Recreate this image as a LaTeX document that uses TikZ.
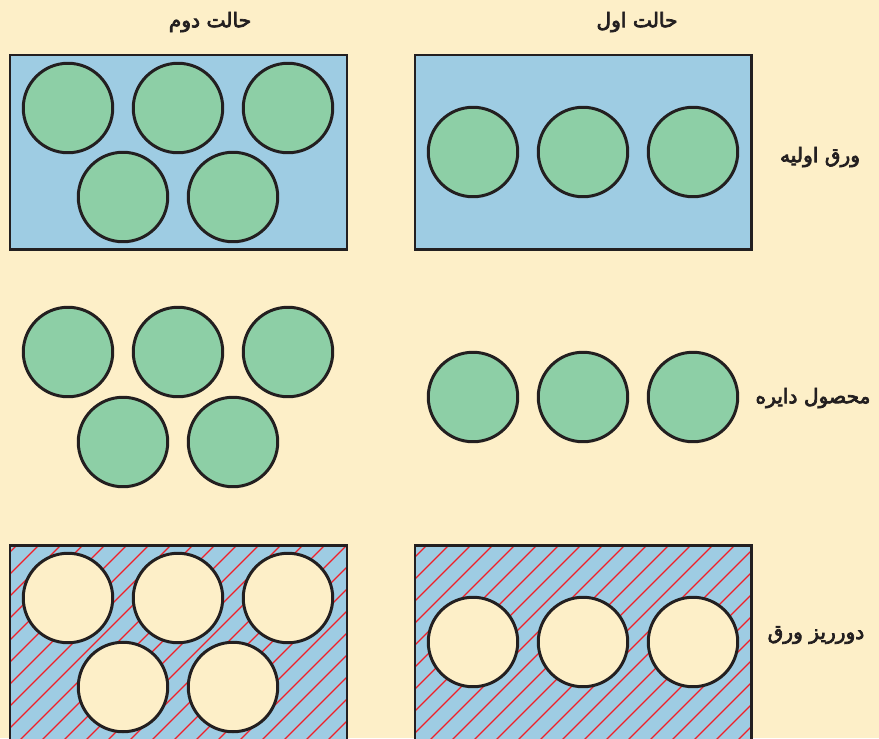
\documentclass[tikz,border=0pt]{standalone}
\usepackage{fontspec}
\newfontfamily\farsi[Script=Arabic, FakeBold=3.5]{DejaVu Sans}
\TeXXeTstate=1
\definecolor{paper}{HTML}{FDEFC8}
\definecolor{sheetblue}{HTML}{9ECCE3}
\definecolor{leaf}{HTML}{8DCFA6}
\definecolor{ink}{HTML}{231F20}
\definecolor{hatchred}{HTML}{F21E28}
\tikzset{
  sheet/.style={
    draw = ink,
    line width = 1.7pt,
    fill = sheetblue
  },
  disc/.style={
    shape = circle,
    draw = ink,
    line width = 1.7pt,
    fill = leaf,
    minimum size = 1.79cm,
    inner sep = 0pt
  },
  hole/.style={
    disc,
    fill = paper
  },
  hatchline/.style={
    draw = hatchred,
    line width = 0.65pt
  },
  caption/.style={
    font = \fontsize{11.5}{13}\selectfont,
    text = ink,
    inner sep = 1pt
  }
}

\begin{document}
\begin{tikzpicture}[x=0.02cm, y=-0.02cm]
        \useasboundingbox (0,0) rectangle (879,738);
        \fill[paper] (0,0) rectangle (879,738);
        \clip (0,0) rectangle (879,738);
        % column titles
        \node[caption] (title2) at (210,22) {\farsi\beginR حالت دوم\endR};
        \node[caption] (title1) at (637,22) {\farsi\beginR حالت اول\endR};
        % row titles
        \node[caption] (row1) at (820,157) {\farsi\beginR ورق اولیه\endR};
        \node[caption] (row2) at (813,398) {\farsi\beginR محصول دایره\endR};
        \node[caption] (row3) at (816,635) {\farsi\beginR دورریز ورق\endR};
        % initial sheets
        \draw[sheet] (10,55) rectangle (347,249);
        \draw[sheet] (415,55) rectangle (751,249);
        \node[disc] (a1) at (68,108) {};
        \node[disc] (a2) at (178,108) {};
        \node[disc] (a3) at (288,108) {};
        \node[disc] (a4) at (123,197) {};
        \node[disc] (a5) at (233,197) {};
        \node[disc] (b1) at (473,152) {};
        \node[disc] (b2) at (583,152) {};
        \node[disc] (b3) at (693,152) {};
        % circles cut out
        \node[disc] (c1) at (68,352) {};
        \node[disc] (c2) at (178,352) {};
        \node[disc] (c3) at (288,352) {};
        \node[disc] (c4) at (123,442) {};
        \node[disc] (c5) at (233,442) {};
        \node[disc] (d1) at (473,397) {};
        \node[disc] (d2) at (583,397) {};
        \node[disc] (d3) at (693,397) {};
        % scrap sheets
        \fill[sheetblue] (10,545) rectangle (347,770);
        \fill[sheetblue] (415,545) rectangle (751,770);
        \begin{scope}
            \clip (10,545) rectangle (347,770);
            \foreach \t in {-230,-208,...,350}
                \draw[hatchline] (\t,770) -- ++(225,-225);
        \end{scope}
        \begin{scope}
            \clip (415,545) rectangle (751,770);
            \foreach \t in {180,202,...,760}
                \draw[hatchline] (\t,770) -- ++(225,-225);
        \end{scope}
        \draw[draw=ink, line width=1.7pt] (10,770) |- (347,545) -- (347,770);
        \draw[draw=ink, line width=1.7pt] (415,770) |- (751,545) -- (751,770);
        \node[hole] (e1) at (68,598) {};
        \node[hole] (e2) at (178,598) {};
        \node[hole] (e3) at (288,598) {};
        \node[hole] (e4) at (123,687) {};
        \node[hole] (e5) at (233,687) {};
        \node[hole] (f1) at (473,642) {};
        \node[hole] (f2) at (583,642) {};
        \node[hole] (f3) at (693,642) {};
    \end{tikzpicture}
\end{document}
